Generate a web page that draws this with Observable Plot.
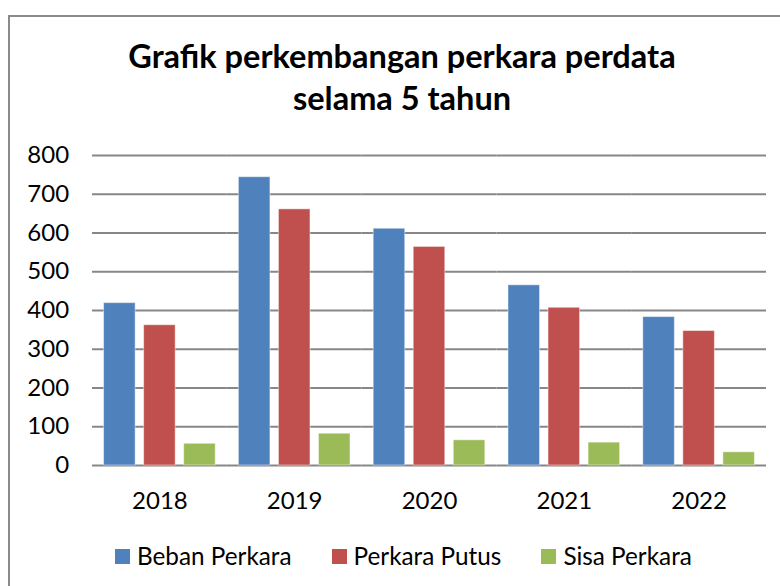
<!DOCTYPE html>
<html>
<head>
<meta charset="utf-8">
<script src="https://cdn.jsdelivr.net/npm/d3@7"></script>
<script src="https://cdn.jsdelivr.net/npm/@observablehq/plot@0.6"></script>
<style>
  html, body { margin: 0; padding: 0; background: #fff; width: 780px; height: 586px; overflow: hidden; }
  body { position: relative; font-family: Lato, "Open Sans", sans-serif; color: #000; }
  #frame { position: absolute; left: 8px; top: 15px; width: 900px; height: 700px;
           border-left: 2px solid #8a8a8a; border-top: 2px solid #8a8a8a; }
  #title { position: absolute; left: 12px; top: 35px; width: 780px; text-align: center;
           font-weight: bold; font-size: 32.5px; line-height: 42px; }
  #chart { position: absolute; left: 0; top: 135px; }
  #legend { position: absolute; left: 115px; top: 542px; display: flex; gap: 40px;
            font-size: 24.3px; line-height: 28px; }
  .item { display: flex; align-items: center; gap: 7px; }
  .sw { width: 15px; height: 15px; display: inline-block; }
</style>
</head>
<body>
<div id="frame"></div>
<div id="title">Grafik perkembangan perkara perdata<br>selama 5 tahun</div>
<div id="chart"></div>
<div id="legend"></div>
<script>
const years = ["2018", "2019", "2020", "2021", "2022"];
const seriesNames = ["Beban Perkara", "Perkara Putus", "Sisa Perkara"];
const bebanPerkara = [419, 744, 611, 465, 383];
const perkaraPutus = [362, 661, 564, 407, 347];
const sisaPerkara = [56, 82, 65, 59, 34];
const colors = ["#4F81BD", "#C0504D", "#9BBB59"];
const yTicks = [0, 100, 200, 300, 400, 500, 600, 700, 800];

const seriesValues = [bebanPerkara, perkaraPutus, sisaPerkara];
const table = [];
years.forEach((yr, i) => {
  seriesNames.forEach((s, j) => {
    table.push({year: yr, series: s, value: seriesValues[j][i]});
  });
});

const fxPadOuter = 0.086;
const plot = Plot.plot({
  width: 780,
  height: 390,
  marginTop: 20,
  marginBottom: 60,
  marginLeft: 92,
  marginRight: 14,
  style: {fontFamily: "Lato, 'Open Sans', sans-serif", fontSize: "24px", color: "#000", background: "transparent"},
  facet: {data: table, x: "year"},
  fx: {domain: years, paddingInner: 0.172, paddingOuter: fxPadOuter, round: false,
       axis: "bottom", label: null, tickSize: 0, tickPadding: 26},
  x: {domain: seriesNames, paddingInner: 0.2125, paddingOuter: 0, round: false, axis: null},
  y: {domain: [0, 800], ticks: yTicks, tickSize: 0, tickPadding: 35, label: null, tickFormat: d => String(d)},
  color: {domain: seriesNames, range: colors},
  marks: [
    Plot.ruleY(yTicks, {stroke: "#878787", strokeWidth: 1.8, insetLeft: -11.6, insetRight: -11.6}),
    Plot.barY(table, {x: "series", y: "value", fill: "series", stroke: "#ffffff", strokeOpacity: 0.45, strokeWidth: 1})
  ]
});
document.getElementById("chart").appendChild(plot);

const legend = document.getElementById("legend");
seriesNames.forEach((s, j) => {
  const it = document.createElement("div");
  it.className = "item";
  const sw = document.createElement("span");
  sw.className = "sw";
  sw.style.background = colors[j];
  const tx = document.createElement("span");
  tx.textContent = s;
  it.appendChild(sw);
  it.appendChild(tx);
  legend.appendChild(it);
});
</script>
</body>
</html>
